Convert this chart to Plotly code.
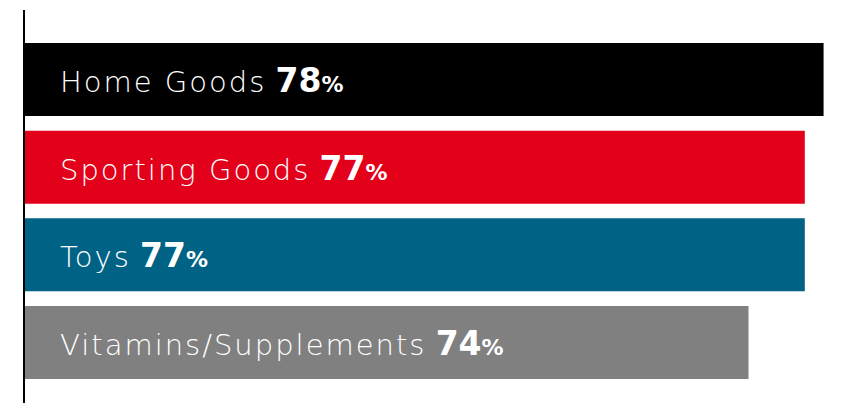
import plotly.graph_objects as go

# Share of shoppers by product category
categories = ["Home Goods", "Sporting Goods", "Toys", "Vitamins/Supplements"]
values = [78, 77, 77, 74]
colors = ["#000000", "#e2001a", "#006385", "#808080"]

name_style = "letter-spacing:2px;"
num_style = "font-family:'DejaVu Sans';font-weight:bold;"

fig = go.Figure(
    go.Bar(
        x=values,
        y=categories,
        orientation="h",
        marker=dict(color=colors, line=dict(width=0)),
        width=0.833,
        hoverinfo="skip",
    )
)

# Category name in light type, value in heavy type with a smaller percent sign
for cat, val in zip(categories, values):
    fig.add_annotation(
        x=35.4,
        y=cat,
        xref="x",
        yref="y",
        xanchor="left",
        yanchor="middle",
        xshift=34,
        yshift=-1,
        showarrow=False,
        text=(
            f"<span style=\"{name_style}\">{cat}</span> "
            f"<span style=\"{num_style}font-size:33px\">{val}</span>"
            f"<span style=\"{num_style}font-size:22px\">%</span>"
        ),
        font=dict(family="DejaVu Sans", size=29, color="white", weight=200),
    )

# Vertical baseline rule on the left edge
fig.add_shape(
    type="line",
    xref="paper",
    yref="paper",
    x0=0,
    x1=0,
    y0=0,
    y1=1,
    line=dict(color="#000000", width=2),
)

fig.update_layout(
    width=863,
    height=403,
    margin=dict(l=24, r=0, t=10, b=0),
    paper_bgcolor="white",
    plot_bgcolor="white",
    showlegend=False,
    xaxis=dict(range=[35.4, 80.1], visible=False, fixedrange=True),
    yaxis=dict(
        type="category",
        categoryorder="array",
        categoryarray=categories,
        range=[3.69, -0.793],
        visible=False,
        fixedrange=True,
    ),
)

fig.write_html("out.html")
